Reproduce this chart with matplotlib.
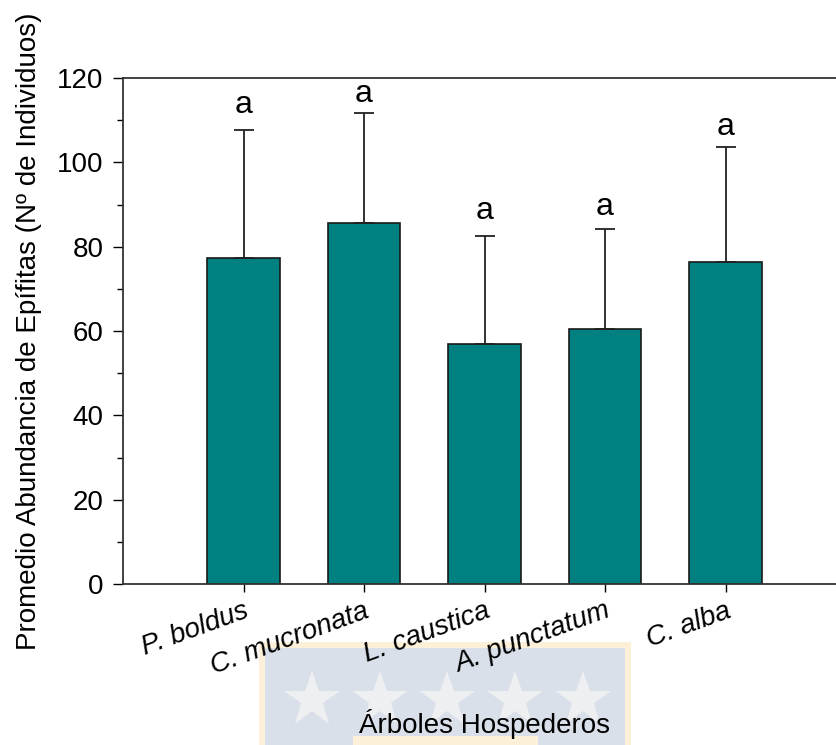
import matplotlib.pyplot as plt
import numpy as np
from matplotlib.patches import Rectangle
from matplotlib.lines import Line2D
from matplotlib.ticker import MultipleLocator

plt.rcParams['font.family'] = ['Liberation Sans', 'DejaVu Sans']

species = ["P. boldus", "C. mucronata", "L. caustica", "A. punctatum", "C. alba"]
means = [77.4, 85.6, 57.0, 60.5, 76.4]
sd = [30.3, 26.2, 25.5, 23.7, 27.3]
letters = ["a", "a", "a", "a", "a"]
letter_y = [111.7, 114.3, 86.6, 87.5, 106.5]

fig = plt.figure(figsize=(8.36, 7.45), dpi=100)

# faint logo in the background, behind the x label
fig.patches.append(Rectangle((259 / 836, 0), 372 / 836, 103 / 745,
                             transform=fig.transFigure, facecolor="#fdf0d8",
                             edgecolor="none", zorder=0))
fig.patches.append(Rectangle((265 / 836, 0), 360 / 836, 97 / 745,
                             transform=fig.transFigure, facecolor="#d9e0e9",
                             edgecolor="none", zorder=0))
fig.patches.append(Rectangle((353 / 836, 0), 185 / 836, 9 / 745,
                             transform=fig.transFigure, facecolor="#fdf0d8",
                             edgecolor="none", zorder=0))
for sx in [312, 380, 447, 515, 583]:
    fig.lines.append(Line2D([sx / 836], [1 - 700 / 745], transform=fig.transFigure,
                            marker="*", markersize=42, color="#eeeff1",
                            markeredgewidth=0, zorder=1))

ax = fig.add_axes([123 / 836, 1 - 584 / 745, 723 / 836, 506 / 745])
ax.set_zorder(3)
ax.patch.set_alpha(0)

x = np.arange(1, len(species) + 1)
ax.bar(x, means, width=0.6, color="#008080", edgecolor="#1a1a1a", linewidth=1.2,
       yerr=[np.zeros(len(sd)), sd], capsize=7,
       error_kw=dict(ecolor="#222222", elinewidth=1.3, capthick=1.3))

# significance letters above the error bars
for xi, ly, lab in zip(x, letter_y, letters):
    ax.text(xi, ly, lab, ha="center", va="baseline", fontsize=23)

ax.set_xlim(0, 6)
ax.set_ylim(0, 120)
ax.yaxis.set_major_locator(MultipleLocator(20))
ax.yaxis.set_minor_locator(MultipleLocator(10))
ax.set_xticks(x)
ax.set_xticklabels(species, rotation=20, ha="right", rotation_mode="anchor",
                   style="italic", fontsize=20)
ax.tick_params(axis="y", which="major", direction="out", length=7, width=1,
               labelsize=20, pad=7)
ax.tick_params(axis="y", which="minor", direction="out", length=4, width=1)
ax.tick_params(axis="x", direction="out", length=6, width=1, pad=4)

for side in ["left", "bottom", "top"]:
    ax.spines[side].set_color("#333333")
    ax.spines[side].set_linewidth(1.3)
ax.spines["right"].set_visible(False)

ax.set_ylabel("Promedio Abundancia de Epífitas (Nº de Individuos)", fontsize=20)
ax.yaxis.set_label_coords(-0.112, 0.5)
ax.set_xlabel("Árboles Hospederos", fontsize=20)
ax.xaxis.set_label_coords(0.5, -0.248)

fig.savefig("out.png", dpi=100)
